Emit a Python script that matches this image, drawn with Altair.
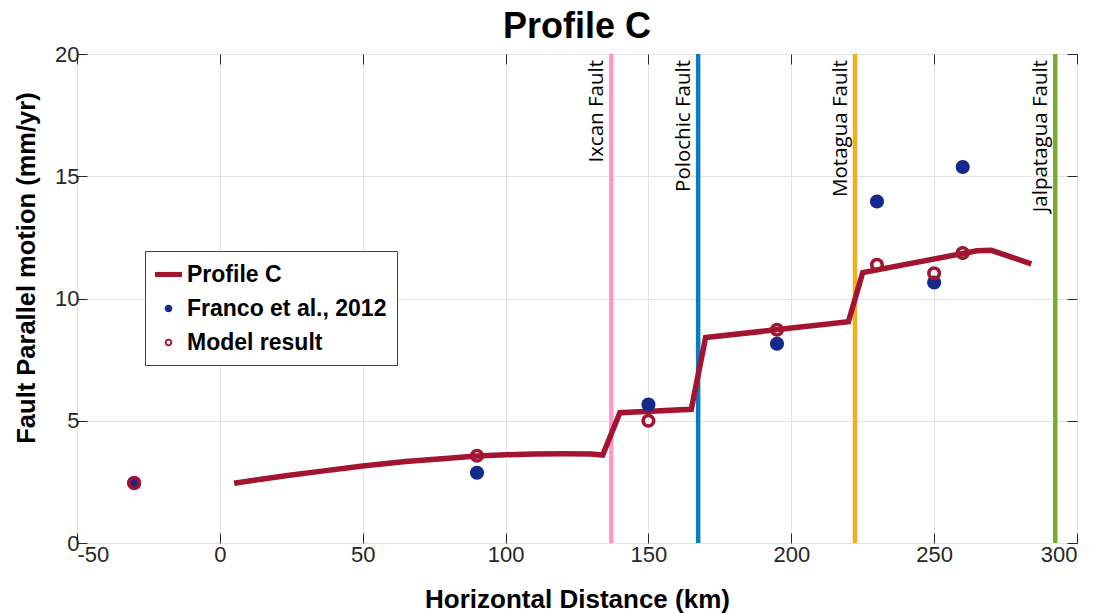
import altair as alt
import pandas as pd

# ---- data ----
profile_x = [5, 15, 25, 35, 50, 65, 80, 90, 100, 110, 120, 130, 134, 140, 165, 170, 220, 225, 265, 270, 284]
profile_y = [2.44, 2.62, 2.78, 2.93, 3.15, 3.33, 3.47, 3.56, 3.61, 3.64, 3.65, 3.64, 3.60,
             5.33, 5.47, 8.40, 9.05, 11.06, 11.95, 11.97, 11.42]

obs_x = [-30, 90, 150, 195, 230, 250, 260]
franco_y = [2.45, 2.87, 5.66, 8.15, 13.97, 10.65, 15.38]
model_y = [2.45, 3.57, 5.00, 8.72, 11.38, 11.03, 11.86]

fault_names = ["Ixcan Fault", "Polochic Fault", "Motagua Fault", "Jalpatagua Fault"]
fault_x = [137.0, 167.4, 222.3, 292.4]
fault_colors = ["#ff99cc", "#0b7bc4", "#edb120", "#77ac30"]

series = ["Profile C", "Franco et al., 2012", "Model result"]
series_colors = ["#a2142f", "#15288c", "#a2142f"]

x_ticks = [-50, 0, 50, 100, 150, 200, 250, 300]
y_ticks = [0, 5, 10, 15, 20]

# symbol paths (unit space, scaled by sqrt(size)/2)
line_path = "M-1,-0.19L1,-0.19L1,0.19L-1,0.19Z"
circle_path = "M0.28,0A0.28,0.28,0,1,1,-0.28,0A0.28,0.28,0,1,1,0.28,0Z"
ring_path = ("M0.28,0A0.28,0.28,0,1,1,-0.28,0A0.28,0.28,0,1,1,0.28,0Z"
             "M0.14,0A0.14,0.14,0,1,0,-0.14,0A0.14,0.14,0,1,0,0.14,0Z")

# ---- tables ----
profile_df = pd.DataFrame({"x": profile_x, "y": profile_y})
pts_df = pd.concat([
    pd.DataFrame({"x": obs_x, "y": franco_y, "series": series[1]}),
    pd.DataFrame({"x": obs_x, "y": model_y, "series": series[2]}),
], ignore_index=True)
fault_df = pd.DataFrame({"x": fault_x, "name": fault_names, "fcolor": fault_colors})

FONT = "Liberation Sans"
W, H = 1000, 489
xscale = alt.Scale(domain=[-50, 300], nice=False, zero=False)
yscale = alt.Scale(domain=[0, 20], nice=False, zero=False)

x_main = alt.X("x:Q", scale=xscale, axis=alt.Axis(
    orient="bottom", values=x_ticks, title="Horizontal Distance (km)",
    labelExpr="'' + datum.value",
    tickSize=alt.ExprRef("-10"), tickColor="#262626", tickWidth=1,
    domain=False, grid=True, gridColor="#e3e3e3", gridWidth=1,
    labelFont=FONT, labelFontSize=22, labelColor="#262626", labelPadding=11,
    titleFont=FONT, titleFontSize=26, titleFontWeight="bold", titleColor="#000000",
    titleBaseline="alphabetic", titleY=64, titleX=W / 2,
))
y_main = alt.Y("y:Q", scale=yscale, axis=alt.Axis(
    orient="left", values=y_ticks, title="Fault Parallel motion (mm/yr)",
    labelExpr="'' + datum.value",
    tickSize=alt.ExprRef("-10"), tickColor="#262626", tickWidth=1,
    domain=False, grid=True, gridColor="#e3e3e3", gridWidth=1,
    labelFont=FONT, labelFontSize=22, labelColor="#262626", labelPadding=8,
    titleFont=FONT, titleFontSize=25.5, titleFontWeight="bold", titleColor="#000000",
    titleAngle=270, titleBaseline="middle", titleX=-51, titleY=H / 2 - 31,
))

x_top = alt.X("x:Q", scale=xscale, axis=alt.Axis(
    orient="top", values=x_ticks, title=None, labels=False, domain=False, grid=False,
    tickSize=alt.ExprRef("-10"), tickColor="#262626", tickWidth=1,
))
y_right = alt.Y("y:Q", scale=yscale, axis=alt.Axis(
    orient="right", values=y_ticks, title=None, labels=False, domain=False, grid=False,
    tickSize=alt.ExprRef("-10"), tickColor="#262626", tickWidth=1,
))

faults = alt.Chart(fault_df).mark_rule(strokeWidth=4.5).encode(
    x=alt.X("x:Q", scale=xscale, axis=None),
    stroke=alt.Stroke("fcolor:N", scale=None),
)

fault_labels = alt.Chart(fault_df).mark_text(
    angle=270, align="right", baseline="alphabetic", dx=-6, dy=-8,
    font="Open Sans", fontSize=20.5, color="#000000",
).encode(
    x=alt.X("x:Q", scale=xscale, axis=None),
    y=alt.datum(20, scale=yscale, axis=None),
    text="name:N",
)

profile = alt.Chart(profile_df).mark_line(
    color=series_colors[0], strokeWidth=5.5, strokeJoin="miter", strokeCap="butt",
).encode(x=x_main, y=y_main, order="x:Q")

legend = alt.Legend(
    title=None, orient="none", legendX=68, legendY=197,
    labelFont=FONT, labelFontWeight="bold", labelFontSize=23, labelColor="#000000",
    labelOffset=5, symbolSize=729, symbolStrokeWidth=0, rowPadding=8,
    padding=10, strokeColor="#404040", fillColor="#ffffff", labelLimit=400,
)

points = alt.Chart(pts_df).mark_point(filled=True, size=2500, opacity=1).encode(
    x=x_top, y=y_right,
    color=alt.Color("series:N", scale=alt.Scale(domain=series, range=series_colors), legend=legend),
    shape=alt.Shape("series:N", scale=alt.Scale(domain=series, range=[line_path, circle_path, ring_path]), legend=legend),
    order=alt.Order("idx:Q"),
).transform_window(idx="row_number()")

chart = alt.layer(faults, fault_labels, profile, points).properties(
    width=W, height=H,
    title=alt.TitleParams("Profile C", font=FONT, fontSize=36, fontWeight="bold",
                          color="#000000", anchor="middle", baseline="alphabetic",
                          offset=15, frame="group", dy=46),
    autosize=alt.AutoSizeParams(type="none"),
    padding={"left": 77, "top": 54, "right": 26, "bottom": 71},
).configure_view(stroke="#262626", strokeWidth=1).configure(font=FONT)

chart.save("out.html", embed_options={"renderer": "svg", "actions": False})
